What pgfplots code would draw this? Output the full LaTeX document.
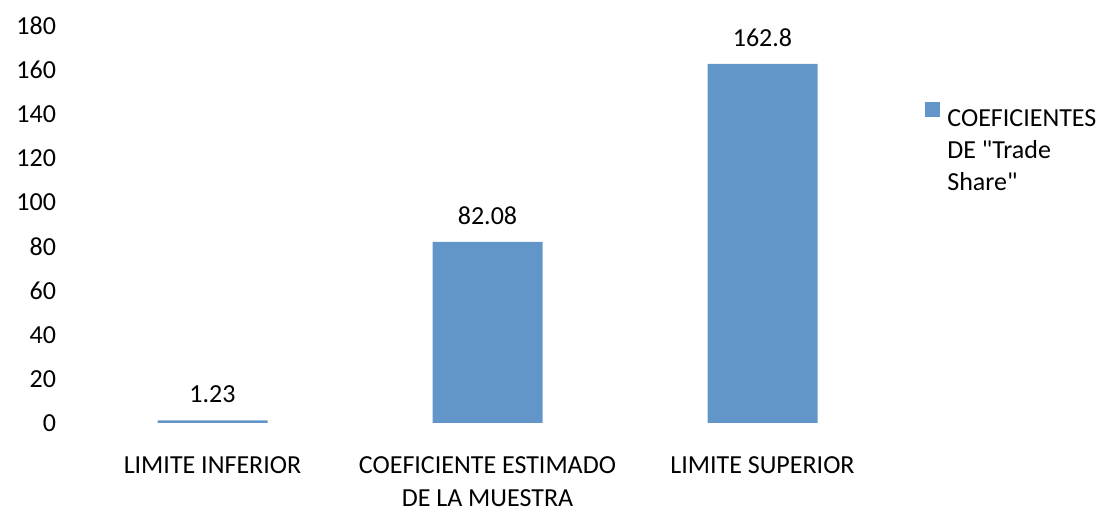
\documentclass[border=0pt]{standalone}
\usepackage{fontspec}
\setmainfont{Carlito}
\newfontfamily\nomap{Carlito}
\usepackage{pgfplots}
\pgfplotsset{compat=1.18}
\definecolor{barblue}{RGB}{98,150,201}
\newcommand{\dq}{{\nomap"}}
\begin{document}
\fontsize{13}{16}\selectfont
\begin{tikzpicture}
\begin{axis}[
  at={(37.5pt,42pt)}, anchor=south west,
  scale only axis, width=412.5pt, height=198.5pt,
  xmin=-0.5, xmax=2.5, ymin=0, ymax=180,
  axis line style={draw=none},
  major tick length=0pt,
  ytick={0,20,...,180},
  xtick={0,1,2},
  xticklabels={LIMITE INFERIOR, COEFICIENTE ESTIMADO\\DE LA MUESTRA, LIMITE SUPERIOR},
  xticklabel style={anchor=north, inner sep=0pt, yshift=-16.8pt, align=center, font=\fontsize{13}{16.3}\selectfont},
  yticklabel style={anchor=east, inner sep=0pt, xshift=-9.3pt},
  /pgf/number format/assume math mode=true,
  ybar, bar width=55pt,
  nodes near coords, point meta=explicit symbolic,
  every node near coord/.append style={anchor=south, inner sep=0pt, yshift=8.5pt, black},
  legend style={at={(1.0303,0.810)}, anchor=north west, draw=none, fill=none, inner sep=0pt,
    column sep=3.5pt, nodes={inner sep=0pt}},
  legend cell align=left,
  legend image code/.code={\fill[barblue] (0pt,0.3pt) rectangle (7.5pt,7.8pt);},
]
\addplot[fill=barblue, draw=none] table[meta=lbl] {
x y lbl
0 1.23 1.23
1 82.08 82.08
2 162.8 162.8
};
\addlegendentry{\begin{tabular}[t]{@{}l@{}}COEFICIENTES\\DE \dq Trade\\Share\dq\end{tabular}}
\end{axis}
\pgfresetboundingbox
\path (0,0) rectangle (549.5pt,253.5pt);
\end{tikzpicture}
\end{document}
